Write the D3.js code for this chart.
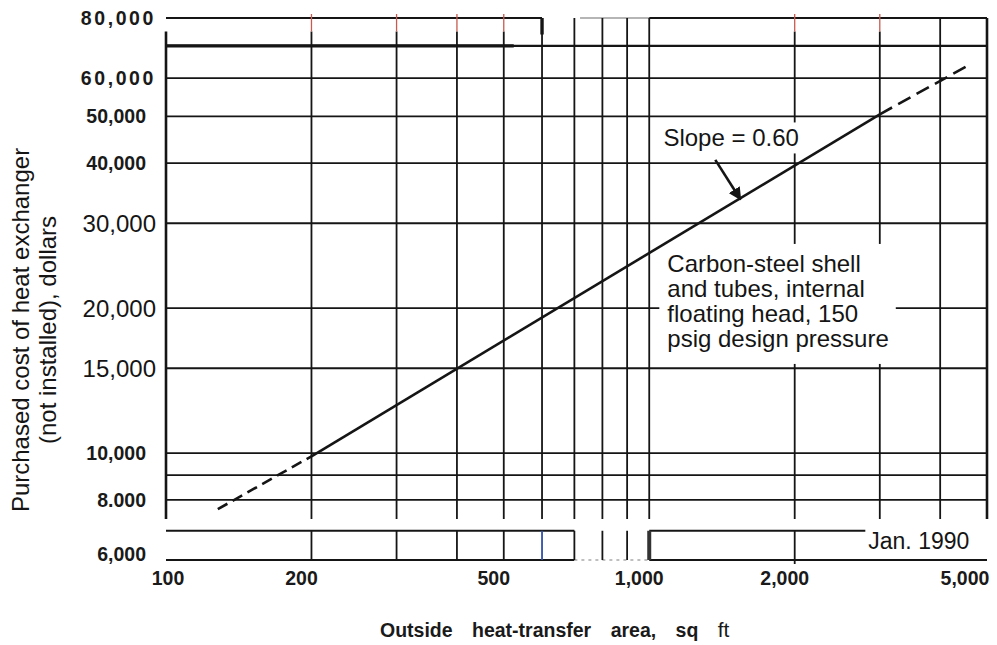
<!DOCTYPE html>
<html>
<head>
<meta charset="utf-8">
<script src="https://cdn.jsdelivr.net/npm/d3@7"></script>
<style>
  body { margin: 0; background: #fff; }
  svg { display: block; }
  .reg  { font-family: "Liberation Sans", Arial, sans-serif; fill: #151515; }
  .bold { font-family: "Liberation Sans", Arial, sans-serif; font-weight: bold; fill: #1a1a1a; }
</style>
</head>
<body>
<div id="graf"></div>
<script>
// datos (escala log-log)
var areaMin = 100, areaMax = 5000
var costMin = 6000, costMax = 80000
var areaTicks = [100, 200, 500, 1000, 2000, 5000]
var areaTickLabels = ['100', '200', '500', '1,000', '2,000', '5,000']
var areaGrid = [200, 300, 400, 500, 600, 700, 800, 900, 1000, 2000, 3000, 4000]
var costTicks = [80000, 60000, 50000, 40000, 30000, 20000, 15000, 10000, 8000, 6000]
var costTickLabels = ['80,000', '60,000', '50,000', '40,000', '30,000', '20,000', '15,000', '10,000', '8.000', '6,000']
var costGrid = [70000, 60000, 50000, 40000, 30000, 20000, 15000, 10000, 9000, 8000]

// recta de costo, pendiente 0.60 (tramos: guiones, continuo, guiones)
var curveArea = [128, 200, 3000, 4600]
var curveCost = [7650, 9850, 50500, 64000]
var curveDashed = [true, false, true]

// flecha de la anotación "Slope"
var arrowArea = [1370, 1545]
var arrowCost = [40600, 33600]

// textos
var slopeText = 'Slope = 0.60'
var noteLines = ['Carbon-steel shell', 'and tubes, internal', 'floating head, 150', 'psig design pressure']
var dateText = 'Jan. 1990'
var yTitle = ['Purchased cost of heat exchanger', '(not installed), dollars']
var xTitleWords = 'Outside heat-transfer area, sq'
var xTitleUnit = 'ft'

// marco de la rejilla
var gridTop = 75000, gridBottom = 7300, stripTop = 6900

var ancho_total = 997, alto_total = 645
var negro = '#151515'

var svg = d3.select('#graf').append('svg')
            .attr('width', ancho_total)
            .attr('height', alto_total)

var x = d3.scaleLog().domain([areaMin, areaMax]).range([166, 987])
var y = d3.scaleLog().domain([costMin, costMax]).range([560, 18])

var capaGrid  = svg.append('g')
var capaFondo = svg.append('g')
var capaCurva = svg.append('g')
var capaTexto = svg.append('g')

function linea(capa, x1, y1, x2, y2, w, color) {
  return capa.append('line')
    .attr('x1', x1).attr('y1', y1)
    .attr('x2', x2).attr('y2', y2)
    .attr('stroke', color || negro)
    .attr('stroke-width', w)
}

// rejilla horizontal
capaGrid.selectAll('line.h')
  .data(costGrid)
  .enter().append('line')
    .attr('class', 'h')
    .attr('x1', x(areaMin))
    .attr('x2', x(areaMax))
    .attr('y1', d => y(d))
    .attr('y2', d => y(d))
    .attr('stroke', negro)
    .attr('stroke-width', d => d == 70000 ? 2.2 : 1.8)
// tramo grueso de 70,000
linea(capaGrid, x(areaMin), y(70000), x(500) + 10, y(70000), 3.2)

// borde superior (80,000)
linea(capaGrid, x(areaMin), y(costMax), x(600), y(costMax), 2)
linea(capaGrid, x(600) + 38, y(costMax), x(1000), y(costMax), 2, '#b5b5b5')
linea(capaGrid, x(1000), y(costMax), x(areaMax), y(costMax), 2)

// rejilla vertical
var desdeArriba = [600, 700, 800, 900, 1000, 4000]
capaGrid.selectAll('line.v')
  .data(areaGrid)
  .enter().append('line')
    .attr('class', 'v')
    .attr('x1', d => x(d))
    .attr('x2', d => x(d))
    .attr('y1', d => desdeArriba.includes(d) ? y(costMax) : y(gridTop))
    .attr('y2', y(gridBottom))
    .attr('stroke', negro)
    .attr('stroke-width', 1.8)
// la de 600 es más gruesa arriba
linea(capaGrid, x(600), y(costMax), x(600), y(gridTop) + 3, 3.4)

// marcas de color sobre el borde superior
capaGrid.selectAll('line.t')
  .data(areaGrid.filter(d => !desdeArriba.includes(d)))
  .enter().append('line')
    .attr('x1', d => x(d))
    .attr('x2', d => x(d))
    .attr('y1', y(costMax) - 4)
    .attr('y2', y(gridTop))
    .attr('stroke', '#c85a4e')
    .attr('stroke-width', 1.3)

// bordes izquierdo y derecho
linea(capaGrid, x(areaMin), y(gridTop), x(areaMin), y(gridBottom), 2.6)
linea(capaGrid, x(areaMax), y(costMax), x(areaMax), y(gridBottom), 2.6)

// franja inferior (6,000)
linea(capaGrid, x(areaMin), y(stripTop), x(700), y(stripTop), 1.8)
linea(capaGrid, x(1000), y(stripTop), x(2800), y(stripTop), 1.8)
linea(capaGrid, x(areaMin), y(costMin), x(700), y(costMin), 1.8)
linea(capaGrid, x(700), y(costMin), x(1000), y(costMin), 1.4, '#aaa')
  .attr('stroke-dasharray', '3,4')
linea(capaGrid, x(1000), y(costMin), x(areaMax), y(costMin), 1.8)

capaGrid.selectAll('line.s')
  .data(areaGrid.filter(d => d <= 2000))
  .enter().append('line')
    .attr('x1', d => x(d))
    .attr('x2', d => x(d))
    .attr('y1', y(stripTop))
    .attr('y2', d => d == 2000 ? y(costMin) + 4 : y(costMin))
    .attr('stroke', d => d == 600 ? '#2f4fa8' : (d == 1000 ? '#333' : negro))
    .attr('stroke-width', d => d == 1000 ? 4 : 1.8)

// curva de costo
var tramos = d3.range(curveArea.length - 1).map(i => ({
  x1: x(curveArea[i]), y1: y(curveCost[i]),
  x2: x(curveArea[i + 1]), y2: y(curveCost[i + 1]),
  dashed: curveDashed[i], fin: i > 0
}))

capaCurva.selectAll('line.c')
  .data(tramos)
  .enter().append('line')
    .attr('x1', d => d.x1).attr('y1', d => d.y1)
    .attr('x2', d => d.x2).attr('y2', d => d.y2)
    .attr('stroke', negro)
    .attr('stroke-width', 2.6)
    .attr('stroke-dasharray', d => d.dashed ? (d.fin ? '14,7' : '11,6') : null)

// flecha
svg.append('defs').append('marker')
    .attr('id', 'punta')
    .attr('viewBox', '0 0 10 10')
    .attr('refX', 9).attr('refY', 5)
    .attr('markerWidth', 5).attr('markerHeight', 5)
    .attr('orient', 'auto')
  .append('path')
    .attr('d', 'M0,0 L10,5 L0,10 z')
    .attr('fill', negro)

linea(capaCurva, x(arrowArea[0]), y(arrowCost[0]), x(arrowArea[1]), y(arrowCost[1]), 2.6)
  .attr('marker-end', 'url(#punta)')

// etiquetas del eje y
var regulares = [30000, 20000, 15000]
var espaciadas = [80000, 60000]
capaTexto.selectAll('text.ey')
  .data(costTicks)
  .enter().append('text')
    .attr('class', d => regulares.includes(d) ? 'reg' : 'bold')
    .attr('x', d => regulares.includes(d) || espaciadas.includes(d) ? 156 : 146)
    .attr('y', d => Math.min(y(d), y(costMin) - 6))
    .attr('dy', '0.36em')
    .attr('text-anchor', 'end')
    .style('font-size', d => regulares.includes(d) ? '24px' : '19.5px')
    .style('letter-spacing', d => espaciadas.includes(d) ? '2.6px' : null)
    .text((d, i) => costTickLabels[i])

// etiquetas del eje x
capaTexto.selectAll('text.ex')
  .data(areaTicks)
  .enter().append('text')
    .attr('class', 'bold')
    .attr('x', d => Math.max(x(areaMin) + 2, Math.min(x(areaMax) - 22, x(d) - 10)))
    .attr('y', y(costMin) + 25)
    .attr('text-anchor', 'middle')
    .style('font-size', '19.5px')
    .text((d, i) => areaTickLabels[i])

// título eje x
var tx = capaTexto.append('text')
    .attr('class', 'bold')
    .attr('x', 380)
    .attr('y', 637)
    .style('font-size', '19.5px')
    .style('word-spacing', '14px')
    .text(xTitleWords + ' ')
tx.append('tspan')
    .style('font-weight', 'normal')
    .style('font-size', '21px')
    .text(xTitleUnit)

// título eje y (dos renglones)
capaTexto.selectAll('text.ty')
  .data(yTitle)
  .enter().append('text')
    .attr('class', 'reg')
    .attr('transform', (d, i) => `translate(${ 29 + i * 27 }, 330) rotate(-90)`)
    .attr('text-anchor', 'middle')
    .style('font-size', '24px')
    .text(d => d)

// anotación de la pendiente
var slope = capaTexto.append('text')
    .attr('class', 'reg')
    .attr('x', x(1070))
    .attr('y', y(43300))
    .style('font-size', '24px')
    .text(slopeText)

// bloque de descripción
var nota = capaTexto.append('g')
nota.selectAll('text')
  .data(noteLines)
  .enter().append('text')
    .attr('class', 'reg')
    .attr('x', x(1090))
    .attr('y', (d, i) => y(23770) + i * 25)
    .style('font-size', '24px')
    .text(d => d)

// fecha en la franja inferior
capaTexto.append('text')
    .attr('class', 'reg')
    .attr('x', x(2840))
    .attr('y', y(6320))
    .style('font-size', '23px')
    .text(dateText)

// fondos blancos que tapan la rejilla detrás de los textos
function fondo(nodo, pad) {
  var b = nodo.node().getBBox()
  capaFondo.append('rect')
    .attr('x', b.x - pad[3])
    .attr('y', b.y - pad[0])
    .attr('width', b.width + pad[1] + pad[3])
    .attr('height', b.height + pad[0] + pad[2])
    .attr('fill', '#fff')
}
fondo(slope, [2, 3, 2, 3])
fondo(nota, [6, 7, 12, 8])
</script>
</body>
</html>
